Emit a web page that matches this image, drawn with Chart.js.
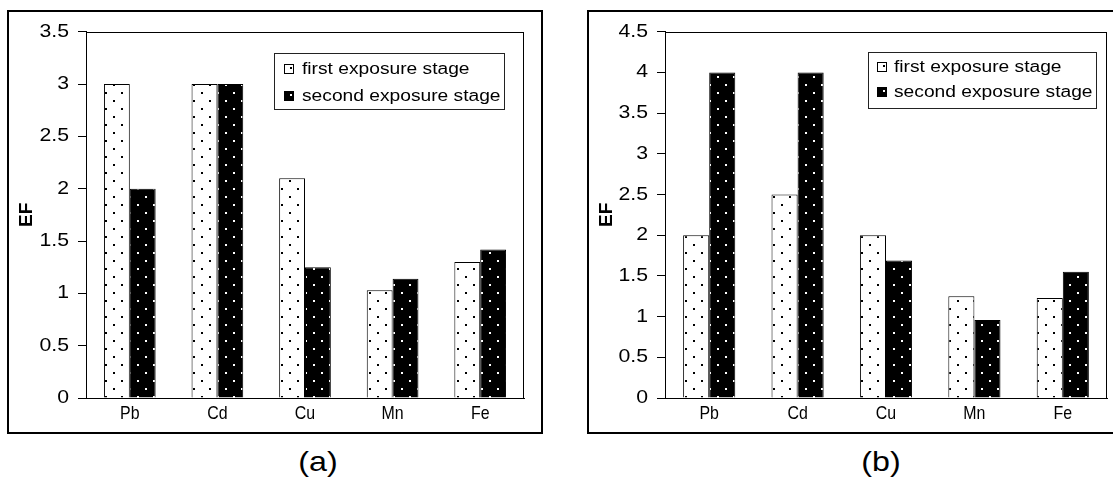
<!DOCTYPE html>
<html><head><meta charset="utf-8">
<script src="https://cdn.jsdelivr.net/npm/chart.js@4.4.0/dist/chart.umd.min.js"></script>
<style>
html,body{margin:0;padding:0;background:#fff;overflow:hidden;width:1113px;height:483px;position:relative;}
.frame{position:absolute;border:2px solid #000;box-sizing:border-box;}
.cap{position:absolute;font-family:"Liberation Sans",Arial,sans-serif;font-size:28px;line-height:1;color:#000;transform:translateX(-50%) scaleX(1.15);white-space:nowrap;}
canvas{position:absolute;}
</style></head><body>
<div class="frame" style="left:7px;top:10px;width:536px;height:424px"></div>
<div class="frame" style="left:587px;top:10px;width:540px;height:424px"></div>
<canvas id="ca" width="532" height="419" style="left:9px;top:12px;width:532px;height:419px"></canvas>
<canvas id="cb" width="524" height="419" style="left:589px;top:12px;width:524px;height:419px"></canvas>
<div class="cap" id="capA" style="left:318px;top:448px"></div>
<div class="cap" id="capB" style="left:881px;top:448px"></div>
<script>
// ---- data ----
const categories = ['Pb', 'Cd', 'Cu', 'Mn', 'Fe'];
const seriesLabels = ['first exposure stage', 'second exposure stage'];
const firstStageA = [3.0, 3.0, 2.1, 1.03, 1.3];
const secondStageA = [2.0, 3.0, 1.25, 1.14, 1.42];
const firstStageB = [2.0, 2.5, 2.0, 1.25, 1.23];
const secondStageB = [4.0, 4.0, 1.69, 0.96, 1.55];
const yTicksA = [0, 0.5, 1, 1.5, 2, 2.5, 3, 3.5];
const yTicksB = [0, 0.5, 1, 1.5, 2, 2.5, 3, 3.5, 4, 4.5];
const yTitle = 'EF';
const captions = ['(a)', '(b)'];

document.getElementById('capA').textContent = captions[0];
document.getElementById('capB').textContent = captions[1];

const FONT = '"Liberation Sans", Arial, sans-serif';
// horizontal text stretch per font size (the reference text is drawn wide / narrow)
const STRETCH = { 18: 1.18, 18.5: 0.86, 16: 1.2 };

function stretchText(ctx) {
  const orig = ctx.fillText.bind(ctx);
  ctx.fillText = function (text, x, y, maxWidth) {
    const m = /(\d+(?:\.\d+)?)px/.exec(ctx.font);
    const sx = m ? STRETCH[parseFloat(m[1])] : undefined;
    const t = ctx.getTransform();
    if (!sx || Math.abs(t.b) > 1e-6) {
      return maxWidth === undefined ? orig(text, x, y) : orig(text, x, y, maxWidth);
    }
    ctx.save();
    ctx.translate(x, y);
    ctx.scale(sx, 1);
    orig(text, 0, 0);
    ctx.restore();
  };
}

function makePattern(ctx, bg, dot) {
  const c = document.createElement('canvas');
  c.width = 16; c.height = 16;
  const g = c.getContext('2d');
  g.fillStyle = bg; g.fillRect(0, 0, 16, 16);
  g.fillStyle = dot;
  g.fillRect(0, 0, 2, 2);
  g.fillRect(8, 8, 2, 2);
  return ctx.createPattern(c, 'repeat');
}

const plotFrame = {
  id: 'plotFrame',
  afterDraw(chart, args, opts) {
    const ctx = chart.ctx, a = chart.chartArea;
    ctx.save();
    ctx.strokeStyle = '#000';
    ctx.lineWidth = 1;
    ctx.strokeRect(Math.round(a.left) + 0.5, Math.round(a.top) + 0.5,
                   Math.round(a.right - a.left) - 1, Math.round(a.bottom - a.top));
    const L = opts.box;
    ctx.fillStyle = '#fff';
    ctx.fillRect(L.x, L.y, L.w, L.h);
    ctx.strokeStyle = '#222';
    ctx.strokeRect(L.x + 0.5, L.y + 0.5, L.w, L.h);
    ctx.font = L.font;
    ctx.textBaseline = 'middle';
    ctx.textAlign = 'left';
    chart.data.datasets.forEach((ds, i) => {
      const cy = L.rows[i];
      const mx = L.markerX, ms = L.markerSize;
      const my = Math.round(cy - ms / 2);
      ctx.fillStyle = i === 0 ? '#fff' : '#000';
      ctx.fillRect(mx, my, ms, ms);
      ctx.strokeStyle = '#000';
      ctx.strokeRect(mx + 0.5, my + 0.5, ms - 1, ms - 1);
      ctx.fillStyle = i === 0 ? '#000' : '#fff';
      ctx.fillRect(mx + ms - 4, my + 3, 2, 2);
      ctx.fillStyle = '#000';
      ctx.fillText(ds.label, L.textX, cy + 1);
    });
    ctx.restore();
  }
};

function buildChart(id, first, second, yTicks, yMax, geo) {
  const canvas = document.getElementById(id);
  const ctx = canvas.getContext('2d');
  stretchText(ctx);
  const patWhite = makePattern(ctx, '#fff', '#000');
  const patBlack = makePattern(ctx, '#000', '#fff');
  return new Chart(ctx, {
    type: 'bar',
    data: {
      labels: categories,
      datasets: [
        { label: seriesLabels[0], data: first, backgroundColor: patWhite, borderColor: '#000', borderWidth: 1 },
        { label: seriesLabels[1], data: second, backgroundColor: patBlack, borderColor: '#000', borderWidth: 1 }
      ]
    },
    options: {
      responsive: false,
      animation: false,
      devicePixelRatio: 1,
      layout: { padding: { top: geo.padTop, right: geo.padRight, left: 0, bottom: 0 } },
      datasets: { bar: { barPercentage: 1.0, categoryPercentage: 0.59 } },
      plugins: {
        legend: { display: false },
        tooltip: { enabled: false },
        plotFrame: { box: geo.legend }
      },
      scales: {
        x: {
          grid: { display: false, drawTicks: false },
          border: { display: true, color: '#000', width: 1 },
          ticks: { color: '#000', font: { family: FONT, size: 18.5 }, padding: 5, maxRotation: 0 },
          afterFit(s) { s.height = geo.xHeight; }
        },
        y: {
          min: 0, max: yMax,
          afterBuildTicks(s) { s.ticks = yTicks.map(v => ({ value: v })); },
          grid: { drawOnChartArea: false, drawTicks: true, tickLength: 8, color: '#000' },
          border: { display: true, color: '#000', width: 1 },
          ticks: { color: '#000', font: { family: FONT, size: 18 }, padding: 9,
                   callback: v => String(v) },
          title: { display: true, text: yTitle, color: '#000',
                   font: { family: FONT, size: 19, weight: 'bold' }, padding: { top: 6, bottom: 0 } },
          afterFit(s) { s.width = geo.yWidth; }
        }
      }
    },
    plugins: [plotFrame]
  });
}

buildChart('ca', firstStageA, secondStageA, yTicksA, 3.5, {
  padTop: 17, padRight: 17, xHeight: 33, yWidth: 77,
  legend: { x: 265, y: 41, w: 230, h: 56, rows: [57, 84], markerX: 275, markerSize: 10,
            textX: 293, font: '16px ' + FONT }
});
buildChart('cb', firstStageB, secondStageB, yTicksB, 4.5, {
  padTop: 17, padRight: 6, xHeight: 33, yWidth: 76,
  legend: { x: 279, y: 40, w: 228, h: 56, rows: [55, 80], markerX: 288, markerSize: 10,
            textX: 305, font: '16px ' + FONT }
});
</script>
</body></html>
